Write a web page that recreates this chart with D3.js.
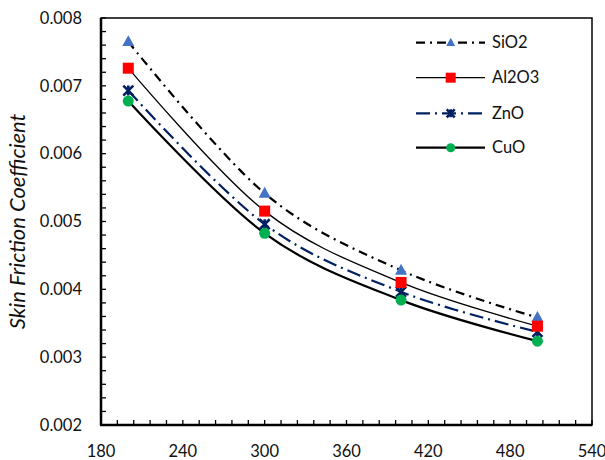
<!DOCTYPE html>
<html><head><meta charset="utf-8">
<script src="https://cdn.jsdelivr.net/npm/d3@7"></script>
<style>body{margin:0;background:#fff;}svg{display:block;font-family:Lato,"Open Sans",sans-serif;}</style>
</head><body><svg id="c" width="605" height="460"></svg>
<script>
const xValues = [200, 300, 400, 500];
const seriesNames = ["SiO2", "Al2O3", "ZnO", "CuO"];
const sio2 = [0.00765, 0.005415, 0.00428, 0.003585];
const al2o3 = [0.00726, 0.005153, 0.004102, 0.003457];
const zno = [0.00693, 0.00496, 0.003963, 0.003373];
const cuo = [0.006776, 0.004825, 0.003841, 0.003236];
const xTicks = [180, 240, 300, 360, 420, 480, 540];
const yTicks = [0.002, 0.003, 0.004, 0.005, 0.006, 0.007, 0.008];
const yLabel = "Skin Friction Coefficient";

const svg = d3.select("#c");
const L = 101, R = 592, T = 18, B = 425;
const x = d3.scaleLinear().domain([180, 540]).range([L, R]);
const y = d3.scaleLinear().domain([0.002, 0.008]).range([B, T]);

const styles = {
  SiO2: {stroke:"#000", w:2.2, dash:"9,5,2,5", marker:"tri", fill:"#4472C4"},
  Al2O3: {stroke:"#000", w:1.3, dash:null, marker:"sq", fill:"#FF0000"},
  ZnO: {stroke:"#002060", w:2.2, dash:"14,5,2,5", marker:"x", fill:"#002060"},
  CuO: {stroke:"#000", w:2.2, dash:null, marker:"circ", fill:"#00B050"}
};
const data = {SiO2: sio2, Al2O3: al2o3, ZnO: zno, CuO: cuo};

// ticks (inward)
const xMinor = d3.range(180, 541, 12);
svg.append("g").selectAll("line").data(xMinor).join("line")
  .attr("x1", d => x(d)).attr("x2", d => x(d)).attr("y1", B).attr("y2", B - 5)
  .attr("stroke", "#000").attr("stroke-width", 1.3);
const yMinor = d3.range(0, 31).map(i => 0.002 + i * 0.0002);
svg.append("g").selectAll("line").data(yMinor).join("line")
  .attr("x1", L).attr("x2", L + 5).attr("y1", d => y(d)).attr("y2", d => y(d))
  .attr("stroke", "#000").attr("stroke-width", 1.3);

// frame
svg.append("rect").attr("x", L).attr("y", T).attr("width", R - L).attr("height", B - T)
  .attr("fill", "none").attr("stroke", "#000").attr("stroke-width", 1.5);
svg.append("line").attr("x1", L).attr("x2", L).attr("y1", T).attr("y2", B).attr("stroke", "#000").attr("stroke-width", 2.5);
svg.append("line").attr("x1", L - 1).attr("x2", R).attr("y1", B).attr("y2", B).attr("stroke", "#000").attr("stroke-width", 2.5);

// tick labels
svg.append("g").selectAll("text").data(yTicks).join("text")
  .attr("x", 82).attr("y", d => y(d)).attr("dy", "0.35em").attr("text-anchor", "end")
  .attr("font-size", 16.5).attr("fill", "#111").text(d => d.toFixed(3));
svg.append("g").selectAll("text").data(xTicks).join("text")
  .attr("x", d => x(d)).attr("y", 451).attr("dy", "0.35em").attr("text-anchor", "middle")
  .attr("font-size", 16.5).attr("fill", "#111").text(d => d);

svg.append("text").attr("transform", `translate(25,${(T + B) / 2}) rotate(-90)`)
  .attr("text-anchor", "middle").attr("font-size", 22).attr("font-style", "italic")
  .attr("fill", "#111").text(yLabel);

// lines
const line = d3.line().x(d => x(d[0])).y(d => y(d[1])).curve(d3.curveCardinal.tension(0));
seriesNames.forEach(n => {
  const s = styles[n];
  svg.append("path").datum(xValues.map((v, i) => [v, data[n][i]]))
    .attr("d", line).attr("fill", "none").attr("stroke", s.stroke).attr("stroke-width", s.w)
    .attr("stroke-dasharray", s.dash);
});

function marker(g, type, cx, cy, sz, color) {
  if (type === "tri") {
    const h = sz * 0.9;
    g.append("path").attr("d", `M${cx},${cy - h * 0.6}L${cx + sz / 2},${cy + h * 0.4}L${cx - sz / 2},${cy + h * 0.4}Z`).attr("fill", color);
  } else if (type === "sq") {
    g.append("rect").attr("x", cx - sz / 2).attr("y", cy - sz / 2).attr("width", sz).attr("height", sz).attr("fill", color);
  } else if (type === "x") {
    const a = sz / 2;
    g.append("path").attr("d", `M${cx - a},${cy - a}L${cx + a},${cy + a}M${cx + a},${cy - a}L${cx - a},${cy + a}M${cx},${cy - a}L${cx},${cy + a}`)
      .attr("stroke", color).attr("stroke-width", 2.6).attr("fill", "none");
  } else {
    g.append("circle").attr("cx", cx).attr("cy", cy).attr("r", sz / 2).attr("fill", color);
  }
}
// markers
const order = ["ZnO", "SiO2", "Al2O3", "CuO"];
const msz = {SiO2: 12, Al2O3: 11, ZnO: 10, CuO: 11};
const mg = svg.append("g");
order.forEach(n => {
  xValues.forEach((v, i) => marker(mg, styles[n].marker, x(v), y(data[n][i]), msz[n], styles[n].fill));
});

// legend
const legY = [42.7, 77.7, 113.3, 147.7];
const lg = svg.append("g");
const lsz = {SiO2: 9, Al2O3: 10, ZnO: 8, CuO: 9};
seriesNames.forEach((n, i) => {
  const s = styles[n];
  const yy = legY[i];
  lg.append("line").attr("x1", 416).attr("x2", 485).attr("y1", yy).attr("y2", yy)
    .attr("stroke", s.stroke).attr("stroke-width", s.w).attr("stroke-dasharray", s.dash);
  marker(lg, s.marker, 450.7, yy, lsz[n], s.fill);
  lg.append("text").attr("x", 492).attr("y", yy).attr("dy", "0.35em").attr("font-size", 16.5)
    .attr("fill", "#111").text(n);
});
</script></body></html>
